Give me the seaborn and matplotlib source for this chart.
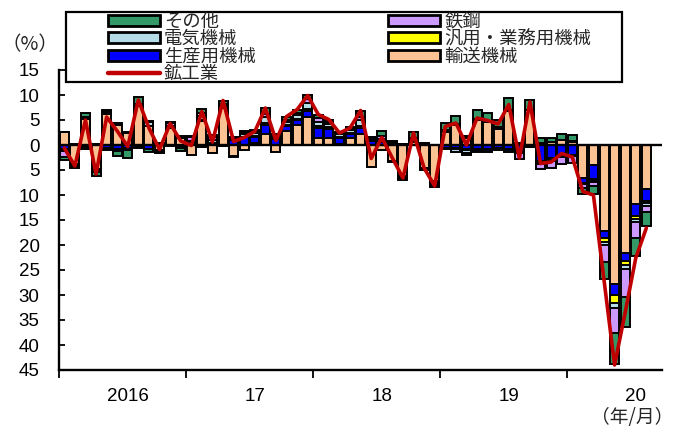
import numpy as np
import pandas as pd
import matplotlib
matplotlib.use("Agg")
import matplotlib.pyplot as plt
import seaborn as sns
from matplotlib import font_manager as fm
from matplotlib.patches import Patch, Rectangle
from matplotlib.lines import Line2D

# ---------------- data (Jan 2016 - Aug 2020, % yoy contributions) ----------------
months = [str(p) for p in pd.period_range("2016-01", "2020-08", freq="M")]

transport = [2.7, -3.8, 5.2, -4.8, 6.2, 4.0, 2.4, 7.8, 3.8, -0.9, 3.5, 1.4,
             -1.9, 4.8, -1.6, 7.5, -2.2, -1.0, 0.5, 2.3, -1.4, 2.8, 4.0, 5.6,
             1.5, 1.4, 0.3, 1.4, 2.2, -4.4, -1.0, -3.1, -6.2, 0.6, -4.5, -7.2,
             2.6, 4.0, 1.5, 5.0, 4.6, 3.2, 6.8, 0.3, 7.0, 0.4, 0.6, 1.0,
             0.6, -6.5, -4.0, -17.1, -27.7, -21.5, -11.8, -8.7]
production = [-0.8, -0.2, -0.4, 0.3, -0.5, -0.8, -0.6, -0.4, -0.8, -0.5, -0.2, -0.3,
              0.3, 0.2, 0.3, 0.3, 1.0, 1.6, 1.2, 1.8, 1.2, 1.0, 1.0, 1.3,
              2.0, 1.8, 1.1, 0.9, 1.3, 0.9, 0.6, 0.4, 0.2, 0.3, -0.3, -0.3,
              -0.5, -0.6, -0.8, -0.8, -0.7, -0.6, -0.8, -1.1, -0.3, -3.2, -2.5, -2.0,
              -1.9, -1.0, -2.7, -1.5, -2.3, -1.6, -2.3, -2.4]
general = [0.0, 0.0, 0.1, 0.0, -0.2, 0.0, 0.0, 0.0, 0.0, 0.0, 0.0, 0.0,
           0.1, -0.3, 0.1, 0.1, 0.1, 0.1, 0.2, 0.3, 0.2, 0.2, 0.2, 0.3,
           0.3, 0.4, 0.3, 0.2, 0.3, 0.1, 0.2, 0.1, 0.0, 0.1, 0.0, 0.0,
           0.2, -0.2, -0.2, -0.3, -0.3, 0.0, -0.2, -0.2, 0.0, -0.3, -0.3, -0.2,
           -0.3, -0.1, -0.2, -0.8, -1.5, -0.9, -0.6, -0.5]
electrical = [-0.3, 0.2, 0.3, -0.2, 0.4, 0.5, 0.2, 0.4, 0.9, 0.3, 0.4, -0.2,
              0.5, 0.8, 0.6, 0.4, 0.3, 0.5, 0.6, 1.2, 0.4, 0.6, 0.8, 1.2,
              0.9, 0.7, 0.6, 0.5, 1.2, 0.3, 0.5, 0.2, 0.1, 0.3, -0.1, -0.2,
              -0.3, -0.5, -0.6, -0.3, -0.4, -0.3, 0.2, -0.3, -0.1, -0.3, -0.3, -0.2,
              0.3, -0.2, -0.4, -0.5, -1.0, -0.8, -0.7, -0.6]
steel = [-1.3, -0.3, -0.3, -0.3, -0.3, -0.3, -0.4, -0.2, 0.2, 0.2, 0.6, 0.4,
         0.8, 0.6, 0.7, -0.2, 0.2, 0.2, 0.3, 0.6, 0.3, 0.4, 0.4, 0.8,
         0.8, 0.4, 0.2, 0.3, 0.6, 0.3, 0.6, 0.2, -0.3, 0.2, 0.2, -0.3,
         0.3, 0.3, -0.3, 0.2, 0.3, 0.5, -0.3, -1.2, 0.0, -1.0, -1.5, -1.3,
         -1.4, -0.7, -0.9, -3.5, -5.0, -5.5, -3.2, -1.2]
other = [-0.6, -0.2, 0.8, -0.8, 0.5, -1.0, -1.6, 1.5, -0.6, -0.2, 0.1, -0.6,
         0.2, 0.8, 0.4, 0.5, -0.1, 0.4, 0.3, 1.2, 0.2, 0.7, 0.7, 0.8,
         0.5, 0.4, 0.2, 0.3, 1.3, 0.1, 0.9, -0.3, -0.4, 1.2, 0.3, -0.4,
         1.3, 1.6, 0.4, 1.8, 1.5, 1.4, 2.4, 0.2, 2.0, 1.0, 0.9, 1.3,
         1.1, -1.2, -1.6, -3.4, -6.3, -6.0, -3.6, -2.8]
industrial = [-0.6, -4.2, 5.0, -5.8, 5.6, 2.8, -0.3, 9.0, 3.4, -0.9, 4.3, 0.8,
              -0.1, 6.7, 0.6, 8.9, 0.7, 1.5, 2.7, 7.4, 0.9, 5.7, 7.1, 9.9,
              6.1, 5.1, 2.4, 3.4, 6.9, -2.7, 1.5, -2.6, -6.6, 2.4, -4.6, -8.2,
              3.7, 4.4, 0.0, 5.4, 4.9, 4.2, 8.1, -2.6, 8.6, -3.7, -3.4, -1.7,
              -2.4, -9.3, -10.0, -27.0, -44.0, -33.5, -22.6, -16.6]

series_names = ["輸送機械", "生産用機械", "汎用・業務用機械", "電気機械", "鉄鋼", "その他"]
series_vals = [transport, production, general, electrical, steel, other]
series_cols = ["#FBC393", "#0000FF", "#FFFF00", "#B4DCE6", "#CC99FF", "#339966"]
line_name = "鉱工業"
line_col = "#C00000"

year_labels = ["2016", "17", "18", "19", "20"]

# ---------------- style ----------------
sns.set_theme(style="white")
avail = {f.name for f in fm.fontManager.ttflist}
num_font = "Liberation Sans" if "Liberation Sans" in avail else "DejaVu Sans"
plt.rcParams["font.family"] = [num_font, "Noto Sans CJK JP", "DejaVu Sans"]
cjk = ["Noto Sans CJK JP", "DejaVu Sans"]

W, H = 675, 429
fig = plt.figure(figsize=(W / 100, H / 100), dpi=100)
ax = fig.add_axes([59 / W, 1 - 370 / H, (662 - 59) / W, 300 / H])

x = np.arange(len(months))
pos_b = np.zeros(len(x))
neg_b = np.zeros(len(x))
for name, vals, col in zip(series_names, series_vals, series_cols):
    v = np.asarray(vals, dtype=float)
    bottom = np.where(v >= 0, pos_b, neg_b)
    ax.bar(x, v, bottom=bottom, width=0.85, color=col, edgecolor="black",
           linewidth=1.4, zorder=2)
    pos_b = pos_b + np.where(v >= 0, v, 0)
    neg_b = neg_b + np.where(v < 0, v, 0)

ax.axhline(0, color="black", lw=1.7, zorder=3)
df_line = pd.DataFrame({"x": x, "y": industrial})
sns.lineplot(data=df_line, x="x", y="y", color=line_col, lw=2.6, ax=ax, zorder=5)

ax.set_xlim(-0.5, 56.48)
ax.set_ylim(-45, 15)
ax.set_xlabel("")
ax.set_ylabel("")

yt = np.arange(-45, 16, 5)
ax.set_yticks(yt)
ax.set_yticklabels([str(abs(int(t))) for t in yt])
ax.tick_params(axis="y", direction="in", length=4, width=1.3, pad=14,
               labelsize=13.5, colors="black", left=True)

ax.set_xticks([-0.5, 11.5, 23.5, 35.5, 47.5])
ax.set_xticklabels([])
ax.set_xticks([6, 18, 30, 42, 54], minor=True)
ax.set_xticklabels(year_labels, minor=True)
ax.tick_params(axis="x", which="major", direction="out", length=6, width=1.3,
               bottom=True, colors="black")
ax.tick_params(axis="x", which="minor", length=0, pad=13, labelsize=13.5,
               colors="black", bottom=True)

for s in ["top", "right"]:
    ax.spines[s].set_visible(False)
for s in ["left", "bottom"]:
    ax.spines[s].set_color("black")
    ax.spines[s].set_linewidth(1.7)

# units
fig.text(30 / W, 1 - 45 / H, "（%）", ha="center", va="center", fontsize=14,
         family=cjk)
fig.text(632 / W, 1 - 418 / H, "（年/月）", ha="center", va="center", fontsize=13.5,
         family=cjk)

# legend box
rect = Rectangle((66 / W, 1 - 82 / H), 556 / W, 70 / H, transform=fig.transFigure,
                 facecolor="white", edgecolor="black", lw=1.6, zorder=1)
fig.add_artist(rect)

hmap = {n: Patch(facecolor=c, edgecolor="black", linewidth=2.0)
        for n, c in zip(series_names, series_cols)}
hmap[line_name] = Line2D([0], [0], color=line_col, lw=3.2)
order = ["その他", "電気機械", "生産用機械", line_name, "鉄鋼", "汎用・業務用機械", "輸送機械"]
fs = 13.2
fs_px = fs * 100 / 72
leg = fig.legend([hmap[n] for n in order], order, ncol=2, loc="upper left",
                 bbox_to_anchor=(108 / W, 1 - 13 / H), frameon=False,
                 borderpad=0, borderaxespad=0, handlelength=52 / fs_px,
                 handleheight=0.55, handletextpad=4 / fs_px,
                 columnspacing=(388 - 164 - 5 * fs_px) / fs_px,
                 labelspacing=-0.035, prop={"family": cjk, "size": fs})
leg.set_zorder(6)

fig.savefig("out.png", dpi=100)
